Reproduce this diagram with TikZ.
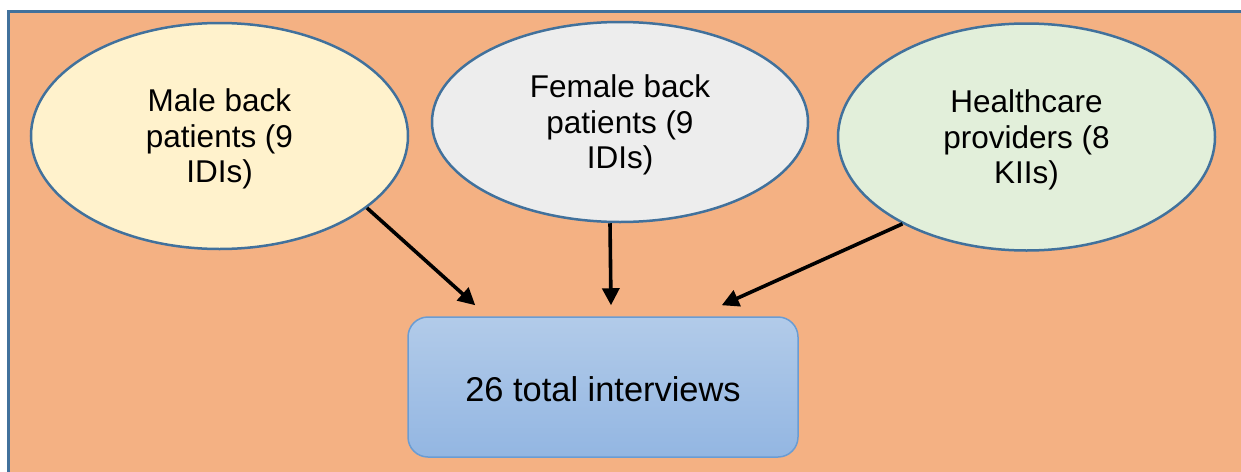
\documentclass[tikz,border=0pt]{standalone}
\usepackage{fontspec}
\setmainfont{Liberation Sans}
\usetikzlibrary{shapes.geometric,arrows.meta}
\def\u{0.5pt}
\definecolor{framecol}{HTML}{41719C}
\definecolor{panel}{HTML}{F4B183}
\definecolor{malefill}{HTML}{FFF2CC}
\definecolor{femalefill}{HTML}{EDEDED}
\definecolor{carefill}{HTML}{E2EFDA}
\definecolor{boxtop}{HTML}{B2CBE9}
\definecolor{boxbot}{HTML}{93B6E2}
\definecolor{boxline}{HTML}{6A9CD3}
% three centred lines, set a little below the node centre
\newcommand\lowlines[3]{\raisebox{-2pt}[\height][\depth]{%
  \begin{tabular}{@{}c@{}}#1\\#2\\#3\end{tabular}}}
\tikzset{
  group/.style={ellipse, draw=framecol, line width=2.5*\u, inner sep=0pt,
    font=\fontsize{15.75pt}{17.75pt}\selectfont},
  totalbox/.style={rectangle, rounded corners=10pt, draw=boxline, line width=1.5*\u,
    top color=boxtop, bottom color=boxbot, minimum width=390*\u, minimum height=140*\u,
    font=\fontsize{17.2pt}{20pt}\selectfont},
  feed/.style={line width=3.6*\u, -{Triangle[length=17*\u, width=17*\u]}}
}
\begin{document}
\begin{tikzpicture}[x=\u, y=-\u]
\useasboundingbox (0,0) rectangle (1241,471);
\clip (0,0) rectangle (1241,471);
% panel behind the diagram
\fill[white] (0,0) rectangle (1241,471);
\fill[panel] (8.5,11.5) rectangle (1250,480);
\draw[framecol, line width=2.5*\u] (8.5,480) -- (8.5,11.5) -- (1250,11.5);
% source groups
\node[group, fill=malefill, minimum width=377*\u, minimum height=226*\u]
  (male) at (219.5,136) {\lowlines{Male back}{patients (9}{IDIs)}};
\node[group, fill=femalefill, minimum width=376*\u, minimum height=200*\u]
  (female) at (620,122) {\lowlines{Female back}{patients (9}{IDIs)}};
\node[group, fill=carefill, minimum width=377*\u, minimum height=227*\u]
  (care) at (1026.5,137) {\lowlines{Healthcare}{providers (8}{KIIs)}};
% total
\node[totalbox] (total) at (603,387)
  {\raisebox{-1pt}[\height][\depth]{26 total interviews}};
\coordinate (inA) at ([xshift=68*\u, yshift=11*\u]total.north west);
\coordinate (inB) at ([xshift=8*\u, yshift=11*\u]total.north);
\coordinate (inC) at ([xshift=-77*\u, yshift=11*\u]total.north east);
% arrows
\draw[feed] (male.-26) -- (inA);
\draw[feed] ([xshift=-10*\u]female.south) -- (inB);
\draw[feed] (care.-145) -- (inC);
\end{tikzpicture}
\end{document}
